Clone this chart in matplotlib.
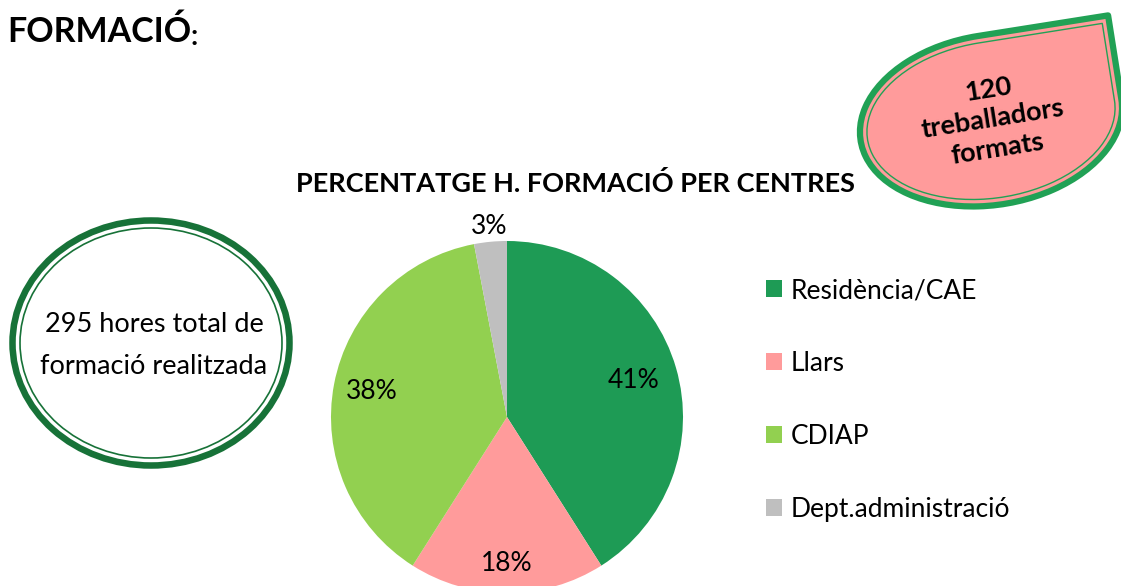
import numpy as np
import matplotlib.pyplot as plt
from matplotlib.path import Path
from matplotlib.patches import PathPatch, Ellipse
from matplotlib.transforms import Affine2D

plt.rcParams['font.family'] = ['Lato', 'DejaVu Sans']

# data
centres = ['Residència/CAE', 'Llars', 'CDIAP', 'Dept.administració']
percent = [41, 18, 38, 3]
colors = ['#1E9B55', '#FF9B9B', '#92D050', '#BFBFBF']
label_dist = [0.75, 0.83, 0.78, 1.09]

W, H = 1121, 586
fig = plt.figure(figsize=(W / 100, H / 100), dpi=100)
ax = fig.add_axes([0, 0, 1, 1])


def Y(y):
    # pixel row from top -> data y
    return H - y


# pie
cx, cy, r = 507, Y(417), 176
wedges, _ = ax.pie(percent, colors=colors, startangle=90, counterclock=False,
                   center=(cx, cy), radius=r, frame=True,
                   wedgeprops=dict(linewidth=0))
for w, p, d in zip(wedges, percent, label_dist):
    ang = np.deg2rad((w.theta1 + w.theta2) / 2)
    ax.text(cx + d * r * np.cos(ang), cy + d * r * np.sin(ang), f'{p}%',
            ha='center', va='center', fontsize=19)

ax.set_xlim(0, W)
ax.set_ylim(0, H)
ax.set_aspect('auto')
ax.axis('off')

# titles
ax.text(7, Y(32), 'FORMACIÓ', fontsize=24.5, fontweight='bold', va='center', ha='left')
ax.text(191, Y(37), ':', fontsize=20, fontweight='bold', va='center', ha='left')
ax.text(575, Y(183), 'PERCENTATGE H. FORMACIÓ PER CENTRES', fontsize=19.5,
        fontweight='bold', ha='center', va='center')

# legend
ax.legend(wedges, centres, loc='upper left', bbox_to_anchor=(766, Y(278)),
          bbox_transform=ax.transData, frameon=False, fontsize=19,
          labelspacing=1.82, handlelength=0.6, handleheight=0.6,
          handletextpad=0.33, borderpad=0, borderaxespad=0)

# left ellipse with double line
ecx, ecy = 151, Y(343)
ax.add_patch(Ellipse((ecx, ecy), 277, 245, fill=False, ec='#177238', lw=4.7))
ax.add_patch(Ellipse((ecx, ecy), 262, 230, fill=False, ec='#177238', lw=1.2))
ax.text(ecx + 3, Y(325), '295 hores total de', fontsize=19.5, ha='center', va='center')
ax.text(ecx + 3, Y(367), 'formació realitzada', fontsize=19.5, ha='center', va='center')

# teardrop shape top right


def teardrop(a, b, ang, tx, ty):
    arc = Path.arc(90, 360)
    verts = list(arc.vertices) + [(1, 1), (0, 1)]
    codes = list(arc.codes) + [Path.LINETO, Path.CLOSEPOLY]
    tr = Affine2D().scale(a, b).rotate_deg(ang).translate(tx, ty)
    return tr.transform_path(Path(verts, codes))


tcx, tcy, tang = 991, Y(120), 9
ax.add_patch(PathPatch(teardrop(132, 85, tang, tcx, tcy), fc='#FF9B9B',
                       ec='#21A155', lw=4.5, joinstyle='round'))
ax.add_patch(PathPatch(teardrop(125, 78, tang, tcx, tcy), fill=False,
                       ec='#21A155', lw=1.0, joinstyle='round'))
ax.text(993, Y(119), '120\ntreballadors\nformats', fontsize=19.5, fontweight='bold',
        ha='center', va='center', rotation=tang, linespacing=1.3,
        rotation_mode='anchor')

fig.savefig('out.png', dpi=100)
